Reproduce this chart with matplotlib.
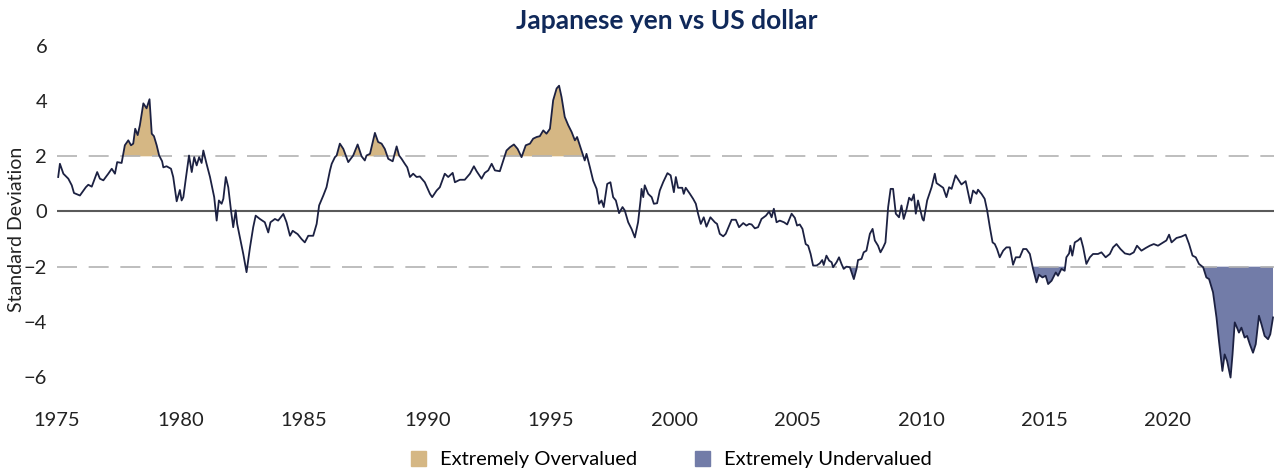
import matplotlib
matplotlib.use("Agg")
import matplotlib.pyplot as plt
from matplotlib.patches import Patch
import numpy as np

plt.rcParams["font.family"] = ["Lato", "DejaVu Sans"]

# readings: decimal year, standard deviations
years = [
    1975.05, 1975.12, 1975.26, 1975.46, 1975.60, 1975.69, 1975.93, 1976.17, 1976.27, 1976.41,
    1976.63, 1976.74, 1976.88, 1977.08, 1977.22, 1977.35, 1977.44, 1977.62, 1977.75, 1977.89,
    1978.00, 1978.09, 1978.17, 1978.27, 1978.36, 1978.50, 1978.63, 1978.75, 1978.84, 1978.93,
    1979.04, 1979.14, 1979.26, 1979.31, 1979.44, 1979.62, 1979.71, 1979.85, 1979.98, 1980.05,
    1980.12, 1980.22, 1980.35, 1980.46, 1980.56, 1980.66, 1980.76, 1980.86, 1980.93, 1981.06,
    1981.20, 1981.37, 1981.47, 1981.56, 1981.67, 1981.74, 1981.84, 1981.94, 1982.05, 1982.14,
    1982.24, 1982.30, 1982.41, 1982.55, 1982.68, 1982.82, 1982.95, 1983.05, 1983.22, 1983.42,
    1983.56, 1983.65, 1983.83, 1983.96, 1984.17, 1984.30, 1984.44, 1984.55, 1984.75, 1984.91,
    1985.04, 1985.18, 1985.38, 1985.52, 1985.62, 1985.79, 1985.92, 1986.06, 1986.13, 1986.26,
    1986.33, 1986.46, 1986.60, 1986.80, 1987.00, 1987.18, 1987.34, 1987.47, 1987.54, 1987.68,
    1987.88, 1988.01, 1988.15, 1988.28, 1988.42, 1988.60, 1988.76, 1988.86, 1988.96, 1989.09,
    1989.19, 1989.30, 1989.43, 1989.57, 1989.70, 1989.90, 1990.11, 1990.20, 1990.38, 1990.51,
    1990.71, 1990.85, 1991.03, 1991.12, 1991.32, 1991.52, 1991.73, 1991.89, 1992.00, 1992.20,
    1992.33, 1992.47, 1992.61, 1992.74, 1992.94, 1993.08, 1993.21, 1993.35, 1993.51, 1993.66,
    1993.82, 1993.99, 1994.16, 1994.29, 1994.43, 1994.56, 1994.70, 1994.83, 1994.97, 1995.10,
    1995.24, 1995.34, 1995.44, 1995.57, 1995.71, 1995.85, 1995.98, 1996.07, 1996.18, 1996.32,
    1996.38, 1996.45, 1996.59, 1996.72, 1996.86, 1996.96, 1997.06, 1997.15, 1997.29, 1997.42,
    1997.53, 1997.64, 1997.77, 1997.91, 1998.00, 1998.14, 1998.28, 1998.41, 1998.54, 1998.64,
    1998.68, 1998.75, 1998.81, 1998.95, 1999.09, 1999.18, 1999.31, 1999.42, 1999.56, 1999.73,
    1999.86, 1999.99, 2000.07, 2000.16, 2000.33, 2000.39, 2000.47, 2000.64, 2000.77, 2000.88,
    2000.97, 2001.08, 2001.20, 2001.31, 2001.47, 2001.65, 2001.74, 2001.85, 2001.99, 2002.09,
    2002.23, 2002.33, 2002.50, 2002.63, 2002.80, 2002.93, 2003.04, 2003.14, 2003.27, 2003.40,
    2003.54, 2003.72, 2003.85, 2003.95, 2004.04, 2004.15, 2004.28, 2004.45, 2004.58, 2004.76,
    2004.89, 2004.98, 2005.09, 2005.20, 2005.33, 2005.43, 2005.53, 2005.63, 2005.77, 2005.90,
    2006.00, 2006.06, 2006.17, 2006.28, 2006.38, 2006.44, 2006.58, 2006.68, 2006.78, 2006.87,
    2006.98, 2007.12, 2007.28, 2007.39, 2007.45, 2007.59, 2007.68, 2007.79, 2007.93, 2008.04,
    2008.13, 2008.26, 2008.36, 2008.47, 2008.56, 2008.67, 2008.77, 2008.87, 2008.98, 2009.11,
    2009.21, 2009.30, 2009.41, 2009.52, 2009.62, 2009.71, 2009.79, 2009.88, 2010.06, 2010.11,
    2010.25, 2010.43, 2010.56, 2010.63, 2010.76, 2010.90, 2011.03, 2011.14, 2011.24, 2011.40,
    2011.53, 2011.64, 2011.81, 2012.00, 2012.11, 2012.25, 2012.31, 2012.45, 2012.58, 2012.68,
    2012.79, 2012.90, 2012.99, 2013.08, 2013.19, 2013.33, 2013.46, 2013.60, 2013.73, 2013.84,
    2014.00, 2014.14, 2014.27, 2014.41, 2014.54, 2014.68, 2014.78, 2014.92, 2015.05, 2015.15,
    2015.29, 2015.46, 2015.55, 2015.69, 2015.82, 2015.89, 2016.00, 2016.05, 2016.13, 2016.23,
    2016.36, 2016.47, 2016.57, 2016.70, 2016.84, 2016.97, 2017.17, 2017.31, 2017.48, 2017.65,
    2017.78, 2017.92, 2018.08, 2018.26, 2018.46, 2018.62, 2018.75, 2018.93, 2019.11, 2019.27,
    2019.43, 2019.60, 2019.81, 2019.94, 2020.05, 2020.15, 2020.35, 2020.55, 2020.72, 2020.86,
    2021.00, 2021.13, 2021.26, 2021.43, 2021.56, 2021.67, 2021.83, 2021.97, 2022.07, 2022.21,
    2022.30, 2022.40, 2022.54, 2022.62, 2022.71, 2022.80, 2022.88, 2022.98, 2023.11, 2023.21,
    2023.32, 2023.45, 2023.56, 2023.69, 2023.79, 2023.92, 2024.06, 2024.15, 2024.26,
]
std_dev = [
    1.25, 1.73, 1.37, 1.19, 0.95, 0.67, 0.58, 0.88, 0.97, 0.90,
    1.43, 1.19, 1.13, 1.37, 1.55, 1.37, 1.79, 1.76, 2.40, 2.58,
    2.40, 2.46, 3.00, 2.77, 3.13, 3.92, 3.74, 4.07, 2.82, 2.73,
    2.40, 2.03, 1.82, 1.60, 1.64, 1.55, 1.25, 0.37, 0.78, 0.40,
    0.52, 1.19, 2.03, 1.43, 1.97, 1.67, 1.97, 1.76, 2.21, 1.73,
    1.25, 0.52, -0.33, 0.40, 0.28, 0.46, 1.25, 0.88, 0.04, -0.57,
    0.04, -0.45, -0.94, -1.55, -2.20, -1.30, -0.57, -0.15, -0.27, -0.39,
    -0.76, -0.39, -0.27, -0.33, -0.09, -0.39, -0.88, -0.70, -0.82, -1.00,
    -1.12, -0.88, -0.88, -0.45, 0.22, 0.58, 0.88, 1.49, 1.73, 1.97,
    2.03, 2.46, 2.27, 1.79, 2.03, 2.43, 2.00, 1.85, 2.03, 2.09,
    2.85, 2.52, 2.46, 2.27, 1.91, 1.82, 2.36, 2.03, 1.91, 1.73,
    1.60, 1.25, 1.37, 1.25, 1.27, 1.06, 0.64, 0.52, 0.76, 0.88,
    1.37, 1.25, 1.40, 1.06, 1.15, 1.15, 1.37, 1.64, 1.46, 1.19,
    1.40, 1.49, 1.73, 1.49, 1.46, 1.85, 2.21, 2.33, 2.43, 2.27,
    1.97, 2.40, 2.46, 2.64, 2.70, 2.73, 2.94, 2.82, 3.00, 4.03,
    4.46, 4.56, 4.15, 3.43, 3.13, 2.88, 2.58, 2.70, 2.40, 2.03,
    1.85, 2.09, 1.60, 1.12, 0.82, 0.28, 0.40, 0.16, 1.00, 1.06,
    0.52, 0.40, -0.06, 0.16, 0.04, -0.39, -0.64, -0.94, -0.39, 0.40,
    0.82, 0.52, 0.95, 0.64, 0.52, 0.28, 0.30, 0.76, 1.07, 1.39,
    1.31, 0.70, 1.25, 0.86, 0.86, 0.64, 0.86, 0.64, 0.46, 0.28,
    -0.08, -0.45, -0.21, -0.55, -0.21, -0.39, -0.45, -0.81, -0.90, -0.81,
    -0.51, -0.30, -0.30, -0.57, -0.42, -0.51, -0.45, -0.47, -0.61, -0.57,
    -0.27, -0.15, 0.00, -0.21, 0.10, -0.39, -0.33, -0.39, -0.47, -0.08,
    -0.23, -0.51, -0.47, -0.63, -1.18, -1.24, -1.54, -1.96, -1.96, -1.88,
    -1.76, -1.94, -1.60, -1.78, -1.84, -2.02, -1.84, -1.66, -1.90, -2.08,
    -2.00, -2.02, -2.45, -2.08, -1.76, -1.72, -1.48, -1.42, -0.81, -0.63,
    -1.05, -1.24, -1.48, -1.30, -1.12, 0.16, 0.82, 0.82, -0.08, -0.21,
    0.22, -0.27, 0.06, 0.50, 0.40, 0.62, -0.08, 0.40, -0.27, -0.33,
    0.40, 0.88, 1.37, 1.03, 0.95, 0.86, 0.52, 0.88, 0.82, 1.31,
    1.13, 0.98, 1.10, 0.30, 0.76, 0.64, 0.79, 0.64, 0.46, 0.04,
    -0.57, -1.12, -1.18, -1.36, -1.66, -1.42, -1.30, -1.30, -1.93, -1.66,
    -1.66, -1.36, -1.36, -1.54, -2.08, -2.57, -2.29, -2.39, -2.33, -2.63,
    -2.51, -2.21, -2.33, -2.08, -2.15, -1.66, -1.52, -1.24, -1.60, -1.12,
    -1.05, -0.96, -1.30, -1.90, -1.66, -1.54, -1.54, -1.48, -1.66, -1.54,
    -1.30, -1.18, -1.36, -1.52, -1.56, -1.48, -1.24, -1.42, -1.32, -1.24,
    -1.18, -1.24, -1.12, -1.05, -0.84, -1.12, -0.96, -0.91, -0.84, -1.18,
    -1.60, -1.66, -1.90, -2.02, -2.39, -2.45, -2.93, -3.84, -4.69, -5.78,
    -5.18, -5.42, -6.02, -5.18, -4.02, -4.21, -4.39, -4.21, -4.57, -4.51,
    -4.81, -5.12, -4.81, -3.78, -4.08, -4.51, -4.63, -4.45, -3.84,
]
threshold = 2.0
year_ticks = [1975, 1980, 1985, 1990, 1995, 2000, 2005, 2010, 2015, 2020]
y_ticks = [-6, -4, -2, 0, 2, 4, 6]

NAVY = "#1c2142"
TAN = "#d5b784"
SLATE = "#727ca8"

x = np.array(years)
y = np.array(std_dev)

fig = plt.figure(figsize=(12.74, 4.72), dpi=100)
ax = fig.add_axes([0.0447, 0.1428, 0.9553, 0.789])

ax.fill_between(x, y, threshold, where=y > threshold, interpolate=True,
                color=TAN, lw=0)
ax.fill_between(x, y, -threshold, where=y < -threshold, interpolate=True,
                color=SLATE, lw=0)
ax.axhline(0, color="#5a5a5a", lw=1.5, zorder=1)
for lvl in (threshold, -threshold):
    ax.axhline(lvl, color="#b3b3b3", lw=1.2, dashes=(12, 7), zorder=1)
ax.plot(x, y, color=NAVY, lw=1.3, zorder=3)

ax.set_xlim(1975.0, 2024.3)
ax.set_ylim(-7, 6.5)
ax.set_xticks(year_ticks)
ax.set_yticks(y_ticks)
ax.tick_params(length=0, labelsize=14.5, colors="#222222")
ax.tick_params(axis="y", pad=7)
ax.tick_params(axis="x", pad=5)
for s in ax.spines.values():
    s.set_visible(False)

ax.set_ylabel("Standard Deviation", fontsize=14, color="#222222")
ax.yaxis.set_label_coords(-0.026, 0.47)

fig.text(0.5236, 0.955, "Japanese yen vs US dollar", ha="center", va="center",
         fontsize=19, fontweight="bold", color="#10295a")

handles = [Patch(color=TAN, label="Extremely Overvalued"),
           Patch(color=SLATE, label="Extremely Undervalued")]
fig.legend(handles=handles, loc="center", bbox_to_anchor=(0.527, 0.026),
           ncol=2, frameon=False, fontsize=14.5, handlelength=0.75,
           handleheight=0.75, columnspacing=2.9, handletextpad=0.7)

fig.savefig("out.png", dpi=100)
